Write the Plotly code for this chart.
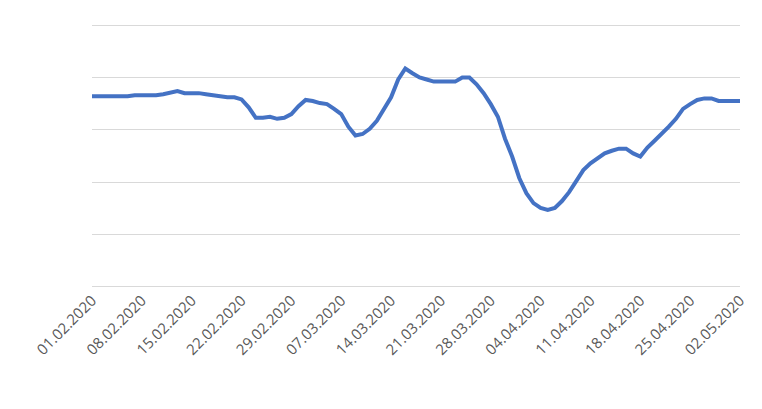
import plotly.graph_objects as go
import pandas as pd

dates = pd.date_range("2020-02-01", "2020-05-02", freq="D")
values = [36.4]*6 + [36.6]*4 + [36.8, 37.1, 37.4, 37.0, 37.0, 37.0, 36.8, 36.6, 36.4, 36.2,
    36.2, 35.8, 34.3, 32.3, 32.3, 32.5, 32.1, 32.3, 33.0, 34.5,
    35.7, 35.5, 35.1, 34.9, 34.0, 33.0, 30.6, 28.9, 29.2, 30.2,
    31.7, 34.0, 36.2, 39.6, 41.7, 40.8, 40.0, 39.6, 39.2, 39.2,
    39.2, 39.2, 40.0, 40.0, 38.7, 37.0, 34.9, 32.5, 28.3, 24.9,
    20.8, 17.9, 16.0, 15.1, 14.7, 15.1, 16.4, 18.1, 20.2, 22.3,
    23.6, 24.5, 25.5, 26.0, 26.4, 26.4, 25.5, 24.9, 26.6, 27.9,
    29.2, 30.6, 32.1, 34.0, 34.9, 35.7, 36.0, 36.0, 35.5, 35.5,
    35.5, 35.5]
tick_dates = dates[::7]
tick_labels = [d.strftime("%d.%m.%Y") for d in tick_dates]

fig = go.Figure(go.Scatter(x=dates, y=values, mode="lines",
                           line=dict(color="#4472C4", width=4)))
fig.update_layout(
    width=762, height=409, plot_bgcolor="white", paper_bgcolor="white",
    margin=dict(l=84, r=30, t=16, b=129), showlegend=False,
    font=dict(family="Open Sans, Liberation Sans", color="#595959", size=15),
)
fig.update_xaxes(range=[dates[0], dates[-1]], tickvals=tick_dates, ticktext=tick_labels,
                 tickangle=-45, showgrid=False, showline=False, ticks="", automargin=False)
fig.update_yaxes(range=[-0.2, 50.2], tickvals=[0, 10, 20, 30, 40, 50], showticklabels=False,
                 gridcolor="#D9D9D9", zeroline=False, automargin=False)
fig.write_html("out.html")
